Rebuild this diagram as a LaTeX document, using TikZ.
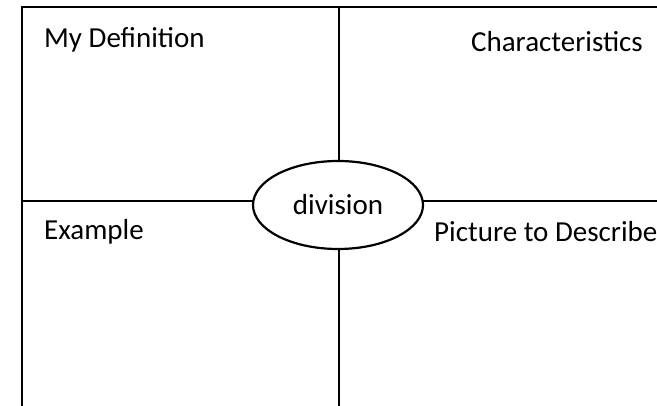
\documentclass[tikz,border=0pt]{standalone}
\usepackage{fontspec}
\setmainfont{Carlito}
\usetikzlibrary{shapes.geometric}
\begin{document}
\begin{tikzpicture}[x=1pt,y=-1pt,
  frame/.style={line width=2.4pt},
  label/.style={font=\fontsize{29}{34}\selectfont, inner sep=0pt}]
\useasboundingbox (0,0) rectangle (657,406);
\coordinate (tl) at (22,7);
\coordinate (tr) at (657,7);
\coordinate (bl) at (22,406);
\coordinate (ml) at (22,201);
\coordinate (mr) at (657,201);
\coordinate (mt) at (339,7);
\coordinate (mb) at (339,406);
\draw[frame] (bl) -- (tl) -- (tr);
\draw[frame] (ml) -- (mr);
\draw[frame] (mt) -- (mb);
\node[ellipse, draw, line width=2.2pt, fill=white, minimum width=170pt, minimum height=88pt, inner sep=0pt, label] (c) at (338,205) {division};
\node[label, anchor=west] (a) at (44,40) {My Definition};
\node[label, anchor=east] (b) at (643,42) {Characteristics};
\node[label, anchor=west] (d) at (44,232) {Example};
\node[label, anchor=west] (e) at (434,232) {Picture to Describe};
\end{tikzpicture}
\end{document}
